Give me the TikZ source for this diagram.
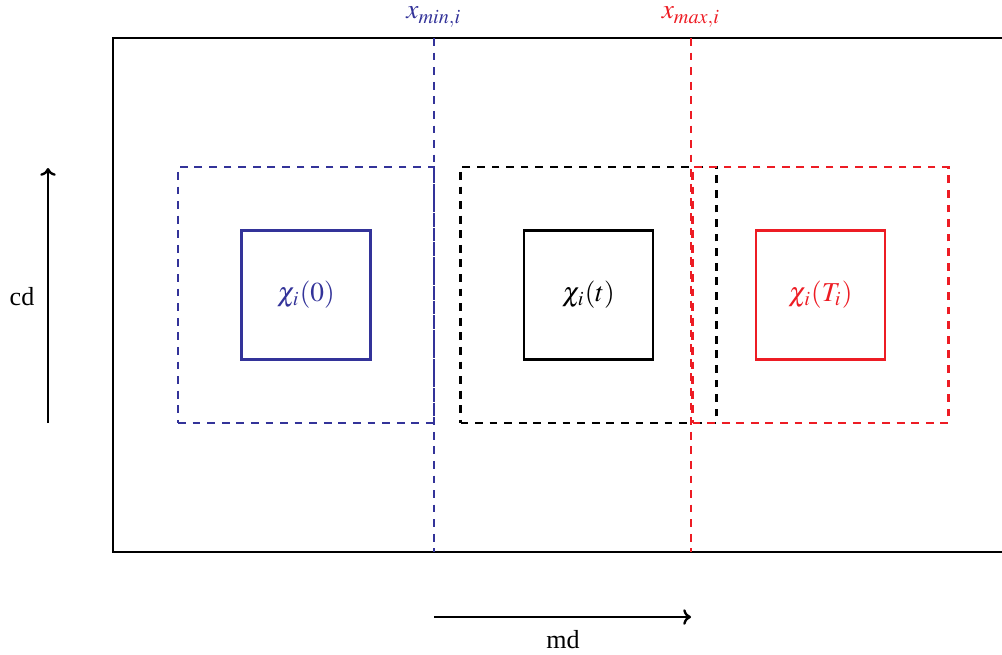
\documentclass[tikz,border=0pt]{standalone}
\usepackage{mathptmx}
\usepackage{fontspec}
\setmainfont{Liberation Serif}
\usetikzlibrary{positioning, arrows.meta}
\definecolor{minblue}{RGB}{51,51,153}
\definecolor{maxred}{RGB}{237,28,36}
\tikzstyle{cell} = [rectangle, draw, line width=0.9pt, minimum size=49.5pt, inner sep=0pt, font=\fontsize{10.5}{12}\selectfont]
\tikzstyle{halo} = [rectangle, draw, line width=0.9pt, dash pattern=on 3pt off 2.6pt, minimum size=98.3pt, inner sep=0pt]
\tikzstyle{bound} = [draw, line width=0.9pt, dash pattern=on 3pt off 2.6pt]
\tikzstyle{line} = [draw, line width=0.9pt, -{To[length=3pt, width=6pt]}]

\begin{document}
\begin{tikzpicture}[x=0.384pt, y=-0.384pt]
        \useasboundingbox (0,0) rectangle (1002,654);
        \draw[line width=0.9pt] (1002,38) -- (113,38) -- (113,552) -- (1002,552);

        \node[cell, draw=minblue, text=minblue] (chi0) at (306,295) {$\chi_i(0)$};
        \node[cell] (chit) at (588.5,295) {$\chi_i(t)$};
        \node[cell, draw=maxred, text=maxred] (chiT) at (820.5,295) {$\chi_i(T_i)$};

        \node[halo, draw=minblue] (h0) at (chi0) {};
        \node[halo] (ht) at (chit) {};
        \node[halo, draw=maxred] (hT) at (chiT) {};

        \coordinate (mintop) at (434,38);
        \coordinate (minbot) at (434,552);
        \coordinate (maxtop) at (691,38);
        \coordinate (maxbot) at (691,552);
        \path[bound, draw=minblue] (mintop) -- (minbot);
        \path[bound, draw=maxred] (maxtop) -- (maxbot);
        \node[text=minblue, font=\fontsize{10.5}{12}\selectfont] (xmin) at (434,17) {$x_{min,i}$};
        \node[text=maxred, font=\fontsize{10.5}{12}\selectfont] (xmax) at (691,17) {$x_{max,i}$};

        \coordinate (cd0) at (48,423);
        \coordinate (cd1) at (48,168);
        \path[line] (cd0) -- (cd1);
        \node (cd) at (22,297) {cd};

        \coordinate (md0) at (434,617);
        \coordinate (md1) at (691,617);
        \path[line] (md0) -- (md1);
        \node (md) at (563,640) {md};
    \end{tikzpicture}
\end{document}
